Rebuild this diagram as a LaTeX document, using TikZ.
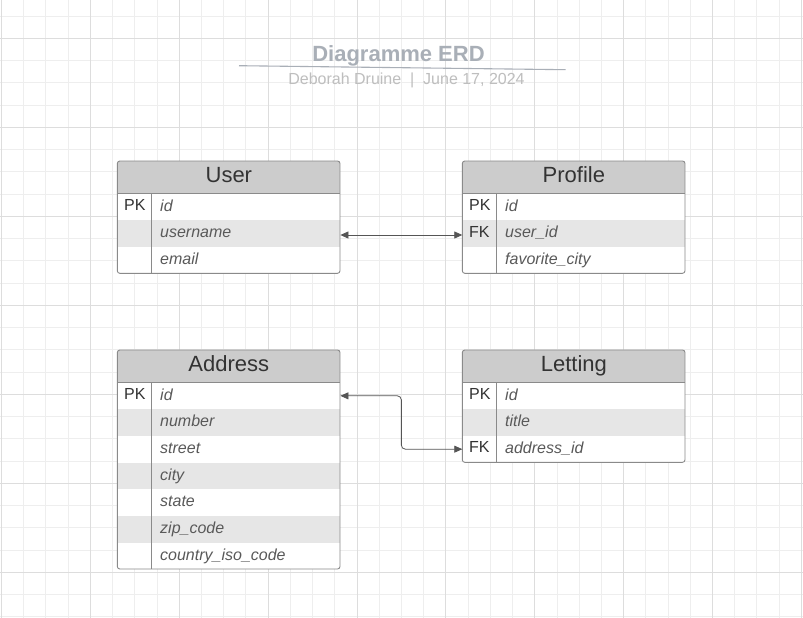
\documentclass[tikz,border=0pt]{standalone}
\usepackage{fontspec}
\setmainfont{Liberation Sans}
\usetikzlibrary{calc,arrows.meta}
\definecolor{gridminor}{HTML}{EEEEEE}
\definecolor{gridmajor}{HTML}{DDDDDD}
\definecolor{hdrgray}{HTML}{CCCCCC}
\definecolor{rowgray}{HTML}{E6E6E6}
\definecolor{bordgray}{HTML}{8A8A8A}
\definecolor{txtdark}{HTML}{333333}
\definecolor{txtfield}{HTML}{595959}
\definecolor{titlecol}{HTML}{A9AFB7}
\definecolor{subcol}{HTML}{BEBEBE}
\definecolor{conncol}{HTML}{555555}
\tikzset{
  hdr/.style={anchor=north west, inner sep=0pt, minimum width=222.7pt, minimum height=32.3pt, fill=hdrgray},
  rowbox/.style={anchor=north west, inner sep=0pt, minimum width=222.7pt, minimum height=26.67pt},
  bord/.style={draw=bordgray, line width=0.9pt},
  hdrtxt/.style={anchor=base, inner sep=0pt, text=txtdark, font=\fontsize{22}{26}\selectfont},
  keytxt/.style={anchor=base west, inner sep=0pt, text=txtdark, font=\fontsize{16}{19}\selectfont},
  fldtxt/.style={anchor=base west, inner sep=0pt, text=txtfield, font=\fontsize{16}{19}\selectfont\itshape},
  conn/.style={draw=conncol, line width=0.8pt, {Triangle[length=8pt,width=7pt]}-{Triangle[length=8pt,width=7pt]}},
  gridmin/.style={draw=gridminor, line width=0.8pt},
  gridmaj/.style={draw=gridmajor, line width=0.8pt}
}
\newcommand\erdtab[6]{%
  \pgfmathsetmacro\tabh{32.3+#5*26.67}
  \begin{scope}
    \clip[rounded corners=2.5pt] (#2,#3) rectangle ++(222.7,\tabh);
    \node[hdr] (#1) at (#2,#3) {};
    \foreach \k/\f [count=\i] in {#6} {
      \pgfmathsetmacro\ry{#3+32.3+(\i-1)*26.67}
      \ifodd\i \def\rf{white}\else\def\rf{rowgray}\fi
      \node[rowbox, fill=\rf] (#1-\i) at (#2,\ry) {};
    }
  \end{scope}
  \node[hdrtxt] (#1-t) at ($(#1.north)+(0,21.3)$) {#4};
  \foreach \k/\f [count=\i] in {#6} {
    \node[keytxt] (#1-\i-k) at ($(#1-\i.north west)+(6.7,17.2)$) {\k};
    \node[fldtxt] (#1-\i-f) at ($(#1-\i.north west)+(42.7,17.7)$) {\f};
  }
  \draw[bord] (#1.south west) -- (#1.south east);
  \draw[bord] ($(#1.south west)+(33.7,0)$) -- ++(0,#5*26.67);
  \draw[bord, rounded corners=2.5pt] (#2,#3) rectangle ++(222.7,\tabh);
}
\begin{document}
\begin{tikzpicture}[x=1pt,y=-1pt]
\useasboundingbox[fill=white] (0,0) rectangle (803,618);
% grid
\foreach \k in {0,...,36} {
  \pgfmathsetmacro\gx{1.4+22.22*\k}
  \pgfmathtruncatemacro\m{mod(\k,4)}
  \ifnum\m=0 \else \draw[gridmin] (\gx,0) -- (\gx,618); \fi
}
\foreach \k in {0,...,27} {
  \pgfmathsetmacro\gy{16.05+22.25*\k}
  \pgfmathtruncatemacro\m{mod(\k,4)}
  \ifnum\m=1 \else \draw[gridmin] (0,\gy) -- (803,\gy); \fi
}
\foreach \k in {0,4,...,36} {
  \pgfmathsetmacro\gx{1.4+22.22*\k}
  \draw[gridmaj] (\gx,0) -- (\gx,618);
}
\foreach \k in {1,5,...,27} {
  \pgfmathsetmacro\gy{16.05+22.25*\k}
  \draw[gridmaj] (0,\gy) -- (803,\gy);
}
% title
\node[anchor=base, inner sep=0pt, text=titlecol, font=\fontsize{22}{26}\selectfont\bfseries] (title) at (398.5,61.5) {Diagramme ERD};
\node[anchor=base, inner sep=0pt, text=subcol, font=\fontsize{16}{19}\selectfont] (subtitle) at (406.5,84.3) {Deborah Druine\ \ |\ \ June 17, 2024};
\coordinate (tl1) at (239,65.7);
\coordinate (tl2) at (565.5,69.7);
\draw[draw=titlecol, line width=1.1pt] (tl1) -- (tl2);
% tables
\erdtab{user}{117.3}{161}{User}{3}{PK/id, /username, /email}
\erdtab{profile}{462.3}{161}{Profile}{3}{PK/id, FK/user\_id, /favorite\_city}
\erdtab{address}{117.3}{350}{Address}{7}{PK/id, /number, /street, /city, /state, /zip\_code, /country\_iso\_code}
\erdtab{letting}{462.3}{350}{Letting}{3}{PK/id, /title, FK/address\_id}
% connectors
\draw[conn] ([yshift=-1.5pt]user-2.east) -- ([yshift=-1.5pt]profile-2.west);
\coordinate (mid) at ($(address-1.east)!0.5!(letting-3.west)$);
\draw[conn, rounded corners=4pt] (address-1.east) -| (mid) |- (letting-3.west);
\end{tikzpicture}
\end{document}
